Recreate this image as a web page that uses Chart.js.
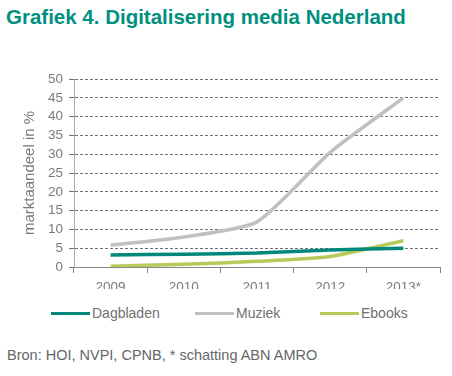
<!DOCTYPE html>
<html>
<head>
<meta charset="utf-8">
<script src="https://cdn.jsdelivr.net/npm/chart.js@4.4.1/dist/chart.umd.min.js"></script>
<style>
  body { margin: 0; background: #fff; font-family: "Liberation Sans", Arial, sans-serif; }
  #wrap { position: relative; width: 452px; height: 376px; overflow: hidden; }
  #title { position: absolute; left: 6px; top: 5px; font-size: 20.5px; font-weight: bold; color: #00907f; white-space: nowrap; }
  #source { position: absolute; left: 7px; top: 347px; font-size: 14.5px; color: #666; white-space: nowrap; }
  #chartBox { position: absolute; left: 0; top: 0; width: 452px; height: 300px; }
  .leg { position: absolute; top: 304px; height: 18px; font-size: 14px; color: #707070; white-space: nowrap; }
  .leg i { position: absolute; top: 8px; height: 3px; }
  .leg span { position: absolute; top: 0; line-height: 18px; }
</style>
</head>
<body>
<div id="wrap">
  <div id="title">Grafiek 4. Digitalisering media Nederland</div>
  <div id="chartBox"><canvas id="chart"></canvas></div>
  <div id="legend"></div>
  <div id="source">Bron: HOI, NVPI, CPNB, * schatting ABN AMRO</div>
</div>
<script>
// ===== Data =====
const years = ['2009', '2010', '2011', '2012', '2013*'];
const dagbladen = [3.2, 3.4, 3.7, 4.5, 5.0];
const muziek = [5.8, 8.0, 12.0, 30.5, 45.0];
const ebooks = [0.2, 0.7, 1.5, 2.8, 7.0];

const yMin = 0, yMax = 50, yStep = 5;

const tickFont = { family: '"Liberation Sans", Arial, sans-serif', size: 13.5 };

const ctx = document.getElementById('chart').getContext('2d');
const chart = new Chart(ctx, {
    type: 'line',
    data: {
        labels: years,
        datasets: [
            { label: 'Dagbladen', data: dagbladen, borderColor: '#00897a', backgroundColor: '#00897a' },
            { label: 'Muziek', data: muziek, borderColor: '#c0c0c4', backgroundColor: '#c0c0c4' },
            { label: 'Ebooks', data: ebooks, borderColor: '#b9c95a', backgroundColor: '#b9c95a' }
        ].map(d => Object.assign(d, { borderWidth: 3.5, pointRadius: 0, tension: 0.2, fill: false }))
    },
    options: {
        responsive: true,
        maintainAspectRatio: false,
        animation: false,
        layout: { padding: { top: 79, right: 12, left: 21, bottom: 11 } },
        plugins: {
            tooltip: { enabled: false },
            legend: { display: false }
        },
        scales: {
            x: {
                offset: true,
                grid: { offset: true, drawOnChartArea: false, drawTicks: true, tickLength: 6, color: '#888' },
                border: { color: '#888' },
                ticks: { color: '#7a7a7a', font: tickFont, padding: 6 },
                afterFit: (scale) => { scale.height = 22; }
            },
            y: {
                min: yMin,
                max: yMax,
                ticks: { stepSize: yStep, autoSkip: false, color: '#7a7a7a', font: tickFont, padding: 6 },
                grid: { color: '#6e7276', tickLength: 5, drawTicks: true },
                border: { color: '#a8a8a8', dash: [3, 2] },
                title: { display: true, text: 'marktaandeel in %', color: '#7a7a7a', font: { family: '"Liberation Sans", Arial, sans-serif', size: 15 }, padding: 0 },
                afterFit: (scale) => { scale.width = 53; }
            }
        }
    }
});

// ===== Legend (HTML, below the plot) =====
const legendX = [51, 195, 320];
document.getElementById('legend').innerHTML = chart.data.datasets.map((ds, i) =>
    `<div class="leg" style="left:${legendX[i]}px"><i style="left:0;width:39px;background:${ds.borderColor}"></i><span style="left:41px">${ds.label}</span></div>`
).join('');
</script>
</body>
</html>
